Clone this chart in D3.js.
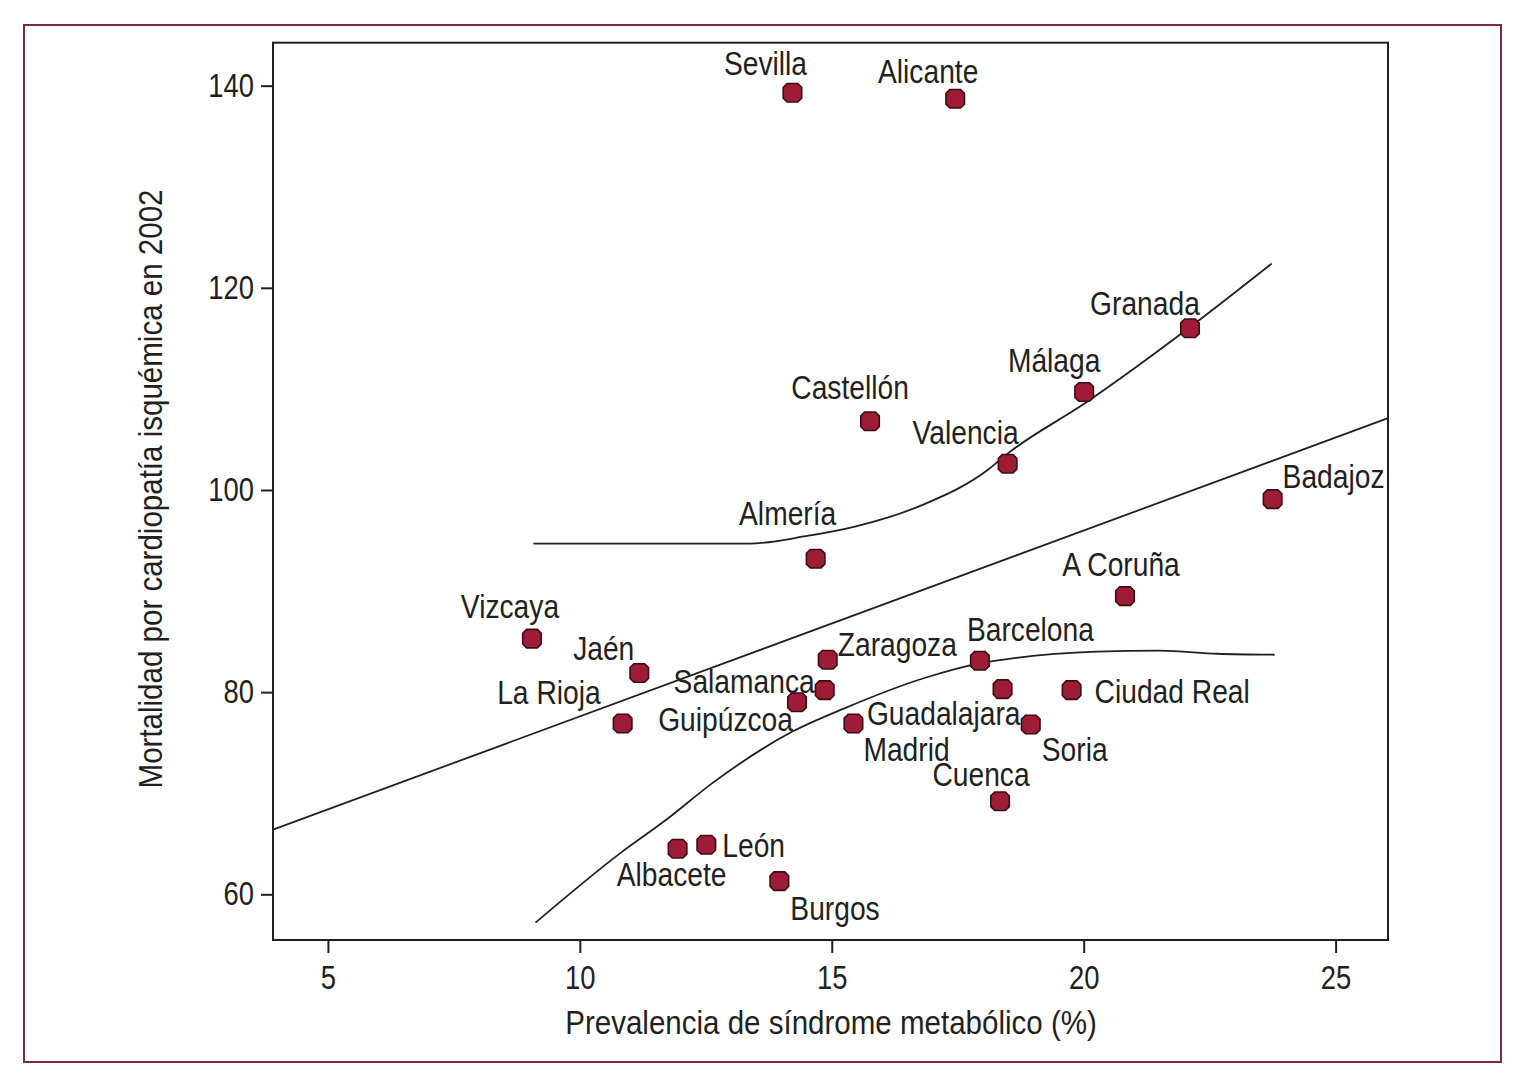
<!DOCTYPE html>
<html>
<head>
<meta charset="utf-8">
<script src="https://cdn.jsdelivr.net/npm/d3@7"></script>
<style>
  body { margin: 0; background: #fff; }
  text { font-family: "Liberation Sans", Arial, sans-serif; fill: #231f20; }
</style>
</head>
<body>
<script>
/* global d3 */
(function() {
  'use strict';

  // provinces and their values
  const provinces = ['Sevilla', 'Alicante', 'Granada', 'Málaga', 'Castellón', 'Valencia', 'Badajoz',
    'Almería', 'A Coruña', 'Vizcaya', 'Jaén', 'Zaragoza', 'Barcelona', 'Salamanca', 'Guadalajara',
    'Ciudad Real', 'Guipúzcoa', 'La Rioja', 'Madrid', 'Soria', 'Cuenca', 'León', 'Albacete', 'Burgos'];
  const prevalence = [14.22, 17.45, 22.11, 20.01, 15.76, 18.49, 23.75,
    14.68, 20.82, 9.05, 11.18, 14.92, 17.94, 14.86, 18.39,
    19.76, 14.31, 10.85, 15.43, 18.95, 18.34, 12.51, 11.94, 13.96];
  const mortality = [139.3, 138.7, 116.0, 109.7, 106.8, 102.6, 99.1,
    93.2, 89.5, 85.3, 81.9, 83.2, 83.1, 80.2, 80.3,
    80.2, 79.0, 76.9, 76.9, 76.8, 69.2, 64.9, 64.5, 61.3];

  // fitted line and confidence band
  const fitX = [3.91, 26.04];
  const fitY = [66.4, 107.1];
  const upperX = [9.08, 13.37, 14.45, 15.48, 16.79, 18.10, 18.49, 20.03, 22.08, 23.73];
  const upperY = [94.7, 94.7, 95.4, 96.4, 98.5, 102.0, 103.6, 108.6, 116.0, 122.4];
  const lowerX = [9.12, 10.81, 11.72, 12.63, 14.22, 15.25, 16.84, 17.98, 18.66, 20.26, 21.51, 22.65, 23.79];
  const lowerY = [57.2, 64.1, 67.4, 71.0, 76.1, 78.4, 81.4, 82.9, 83.4, 84.0, 84.1, 83.8, 83.7];

  const xTicks = [5, 10, 15, 20, 25];
  const yTicks = [60, 80, 100, 120, 140];
  const xTitle = 'Prevalencia de síndrome metabólico (%)';
  const yTitle = 'Mortalidad por cardiopatía isquémica en 2002';

  // label placement: dx, dy from the point, text-anchor
  const labelPos = {
    'Sevilla': [-27, -18, 'middle'], 'Alicante': [-27, -16, 'middle'], 'Granada': [-45, -13, 'middle'],
    'Málaga': [-30, -20, 'middle'], 'Castellón': [-20, -22, 'middle'], 'Valencia': [-42, -20, 'middle'],
    'Badajoz': [10, -11, 'start'], 'Almería': [-28, -34, 'middle'], 'A Coruña': [-4, -20, 'middle'],
    'Vizcaya': [-22, -21, 'middle'], 'Jaén': [-5, -13, 'end'], 'Zaragoza': [10, -4, 'start'],
    'Barcelona': [-13, -20, 'start'], 'Salamanca': [-10, 3, 'end'], 'Guadalajara': [18, 36, 'end'],
    'Ciudad Real': [23, 13, 'start'], 'Guipúzcoa': [-4, 29, 'end'], 'La Rioja': [-22, -19, 'end'],
    'Madrid': [10, 38, 'start'], 'Soria': [11, 37, 'start'], 'Cuenca': [-19, -15, 'middle'],
    'León': [16, 12, 'start'], 'Albacete': [-6, 37, 'middle'], 'Burgos': [11, 39, 'start']
  };

  const w = 1525;
  const h = 1091;
  const left = 273, right = 1388, top = 42.7, bottom = 940;

  // the original font is condensed: squeeze text horizontally
  function condense(sel, sx) {
    sel.each(function() {
      const t = d3.select(this);
      const x = +t.attr('x') || 0;
      const y = +t.attr('y') || 0;
      const prev = t.attr('transform') || '';
      t.attr('x', null).attr('y', null)
        .attr('transform', prev + ' translate(' + x + ',' + y + ') scale(' + sx + ',1)');
    });
  }

  const svg = d3.select('body').append('svg')
    .attr('width', w)
    .attr('height', h);

  // outer frame
  svg.append('rect')
    .attr('x', 24).attr('y', 25)
    .attr('width', 1477).attr('height', 1037)
    .attr('fill', 'none')
    .attr('stroke', '#7d2a45')
    .attr('stroke-width', 2);

  const xScale = d3.scaleLinear().domain([3.91, 26.04]).range([left, right]);
  const yScale = d3.scaleLinear().domain([55.48, 144.25]).range([bottom, top]);

  // axes
  const xAxis = d3.axisBottom(xScale).tickValues(xTicks).tickSizeInner(13).tickSizeOuter(0).tickPadding(13);
  svg.append('g')
    .attr('transform', 'translate(0,' + bottom + ')')
    .call(xAxis)
    .call(g => g.select('.domain').remove());

  const yAxis = d3.axisLeft(yScale).tickValues(yTicks).tickSizeInner(12).tickSizeOuter(0).tickPadding(7);
  svg.append('g')
    .attr('transform', 'translate(' + left + ',0)')
    .call(yAxis)
    .call(g => g.select('.domain').remove());

  svg.selectAll('.tick line').attr('stroke', '#231f20').attr('stroke-width', 2);
  svg.selectAll('.tick text')
    .attr('fill', '#231f20')
    .style('font-family', '"Liberation Sans", Arial, sans-serif')
    .style('font-size', '33px')
    .call(condense, 0.83);

  // plot border
  svg.append('rect')
    .attr('x', left).attr('y', top)
    .attr('width', right - left).attr('height', bottom - top)
    .attr('fill', 'none')
    .attr('stroke', '#231f20')
    .attr('stroke-width', 2);

  // axis titles
  svg.append('text')
    .attr('x', 831).attr('y', 1034)
    .attr('text-anchor', 'middle')
    .style('font-size', '33px')
    .text(xTitle)
    .call(condense, 0.895);

  svg.append('text')
    .attr('transform', 'translate(162,489) rotate(-90)')
    .attr('text-anchor', 'middle')
    .style('font-size', '33px')
    .text(yTitle)
    .call(condense, 0.895);

  // lines
  const line = d3.line()
    .x(d => xScale(d[0]))
    .y(d => yScale(d[1]))
    .curve(d3.curveMonotoneX);

  const lines = [d3.zip(fitX, fitY), d3.zip(upperX, upperY), d3.zip(lowerX, lowerY)];
  svg.selectAll('path.fit')
    .data(lines)
    .enter()
    .append('path')
    .attr('class', 'fit')
    .attr('d', line)
    .attr('fill', 'none')
    .attr('stroke', '#231f20')
    .attr('stroke-width', 1.8);

  // octagon marker
  const octagon = {
    draw(context, size) {
      const r = Math.sqrt(size) / 2;
      const c = r * 0.42;
      context.moveTo(-r + c, -r);
      context.lineTo(r - c, -r);
      context.lineTo(r, -r + c);
      context.lineTo(r, r - c);
      context.lineTo(r - c, r);
      context.lineTo(-r + c, r);
      context.lineTo(-r, r - c);
      context.lineTo(-r, -r + c);
      context.closePath();
    }
  };
  const symbol = d3.symbol().type(octagon).size(18.5 * 18.5);

  const points = provinces.map((p, i) => ({ name: p, x: prevalence[i], y: mortality[i] }));

  svg.selectAll('path.pt')
    .data(points)
    .enter()
    .append('path')
    .attr('class', 'pt')
    .attr('d', symbol)
    .attr('transform', d => 'translate(' + xScale(d.x) + ',' + yScale(d.y) + ')')
    .attr('fill', '#9e1c35')
    .attr('stroke', '#3a0d14')
    .attr('stroke-width', 1.6);

  svg.selectAll('text.lbl')
    .data(points)
    .enter()
    .append('text')
    .attr('class', 'lbl')
    .attr('x', d => xScale(d.x) + labelPos[d.name][0])
    .attr('y', d => yScale(d.y) + labelPos[d.name][1])
    .attr('text-anchor', d => labelPos[d.name][2])
    .style('font-size', '33px')
    .text(d => d.name)
    .call(condense, 0.855);
}());
</script>
</body>
</html>
